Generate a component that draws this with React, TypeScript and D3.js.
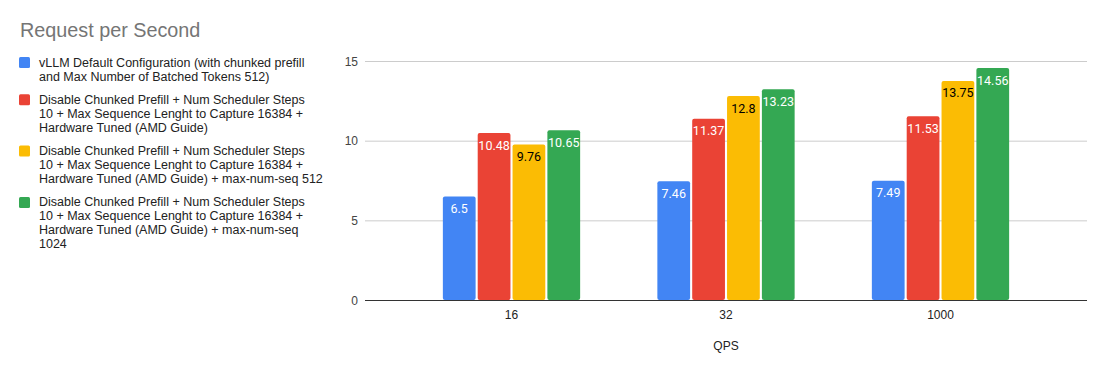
import React, { useEffect, useRef } from 'react';
import * as d3 from 'd3';

// data
const categories = ['16', '32', '1000'];
const seriesNames = [
  'vLLM Default Configuration (with chunked prefill\nand Max Number of Batched Tokens 512)',
  'Disable Chunked Prefill + Num Scheduler Steps\n10 + Max Sequence Lenght to Capture 16384 +\nHardware Tuned (AMD Guide)',
  'Disable Chunked Prefill + Num Scheduler Steps\n10 + Max Sequence Lenght to Capture 16384 +\nHardware Tuned (AMD Guide) + max-num-seq 512',
  'Disable Chunked Prefill + Num Scheduler Steps\n10 + Max Sequence Lenght to Capture 16384 +\nHardware Tuned (AMD Guide) + max-num-seq\n1024',
];
const defaultConfig = [6.5, 7.46, 7.49];
const tuned = [10.48, 11.37, 11.53];
const tunedSeq512 = [9.76, 12.8, 13.75];
const tunedSeq1024 = [10.65, 13.23, 14.56];
const yTicks = [0, 5, 10, 15];

const colors = ['#4285f4', '#ea4335', '#fbbc04', '#34a853'];
const labelColors = ['#ffffff', '#ffffff', '#000000', '#ffffff'];
const font = 'Arial, "Liberation Sans", sans-serif';
const labelFont = 'Roboto, Arial, sans-serif';

const App = () => {
  const node = useRef<SVGSVGElement>(null);

  useEffect(() => {
    const width = 1105,
      height = 371;
    const left = 365,
      right = 1087,
      top = 61,
      bottom = 300;

    const svg = d3.select(node.current);
    svg.selectAll('*').remove();
    svg.attr('width', width).attr('height', height);

    svg.append('rect').attr('width', width).attr('height', height).attr('fill', '#fff');

    const series = [defaultConfig, tuned, tunedSeq512, tunedSeq1024];

    const x0 = d3.scaleBand<string>()
      .domain(categories)
      .range([left, right])
      .paddingInner(0.36)
      .paddingOuter(0.363);

    const x1 = d3.scaleBand<number>()
      .domain(d3.range(series.length))
      .range([0, x0.bandwidth()])
      .paddingInner(0.06);

    const y = d3.scaleLinear().domain([0, 15]).range([bottom, top]);

    // title
    svg.append('text')
      .attr('x', 20)
      .attr('y', 37)
      .attr('font-family', font)
      .attr('font-size', 19.8)
      .attr('fill', '#757575')
      .text('Request per Second');

    // gridlines + y labels
    const grid = svg.append('g');
    yTicks.forEach(t => {
      if (t !== 0) {
        grid.append('line')
          .attr('x1', left).attr('x2', right)
          .attr('y1', y(t) + 0.5).attr('y2', y(t) + 0.5)
          .attr('stroke', '#cccccc');
      }
      grid.append('text')
        .attr('x', 358)
        .attr('y', y(t) + 4.5)
        .attr('text-anchor', 'end')
        .attr('font-family', font)
        .attr('font-size', 12)
        .attr('fill', '#444444')
        .text(t);
    });

    // bars
    categories.forEach((c, ci) => {
      const g = svg.append('g').attr('transform', 'translate(' + x0(c) + ',0)');
      series.forEach((vals, si) => {
        const v = vals[ci];
        const bx = x1(si) as number;
        g.append('rect')
          .attr('x', bx)
          .attr('y', y(v))
          .attr('width', x1.bandwidth())
          .attr('height', y(0) - y(v))
          .attr('rx', 2)
          .attr('fill', colors[si]);
        g.append('text')
          .attr('x', bx + x1.bandwidth() / 2)
          .attr('y', y(v) + 16.5)
          .attr('text-anchor', 'middle')
          .attr('font-family', labelFont)
          .attr('font-size', 12.5)
          .attr('fill', labelColors[si])
          .text(v);
      });
      svg.append('text')
        .attr('x', (x0(c) as number) + x0.bandwidth() / 2)
        .attr('y', 319)
        .attr('text-anchor', 'middle')
        .attr('font-family', font)
        .attr('font-size', 12)
        .attr('fill', '#222222')
        .text(c);
    });

    // baseline
    svg.append('line')
      .attr('x1', left).attr('x2', right)
      .attr('y1', y(0) + 0.5).attr('y2', y(0) + 0.5)
      .attr('stroke', '#333333');

    // x axis title
    svg.append('text')
      .attr('x', (left + right) / 2)
      .attr('y', 350)
      .attr('text-anchor', 'middle')
      .attr('font-family', font)
      .attr('font-size', 12)
      .attr('fill', '#222222')
      .text('QPS');

    // legend
    let ly = 57;
    const lineH = 14;
    seriesNames.forEach((name, i) => {
      const lines = name.split('\n');
      const lg = svg.append('g');
      lg.append('rect')
        .attr('x', 19).attr('y', ly)
        .attr('width', 11).attr('height', 11)
        .attr('rx', 1.5)
        .attr('fill', colors[i]);
      lines.forEach((ln, li) => {
        lg.append('text')
          .attr('x', 39)
          .attr('y', ly + 9.5 + li * lineH)
          .attr('font-family', font)
          .attr('font-size', 12.5)
          .attr('fill', '#222222')
          .text(ln);
      });
      ly += lines.length * lineH + 9.3;
    });
  }, []);

  return <svg ref={node} style={{ display: 'block', margin: '-8px' }}></svg>;
};

export default App;
